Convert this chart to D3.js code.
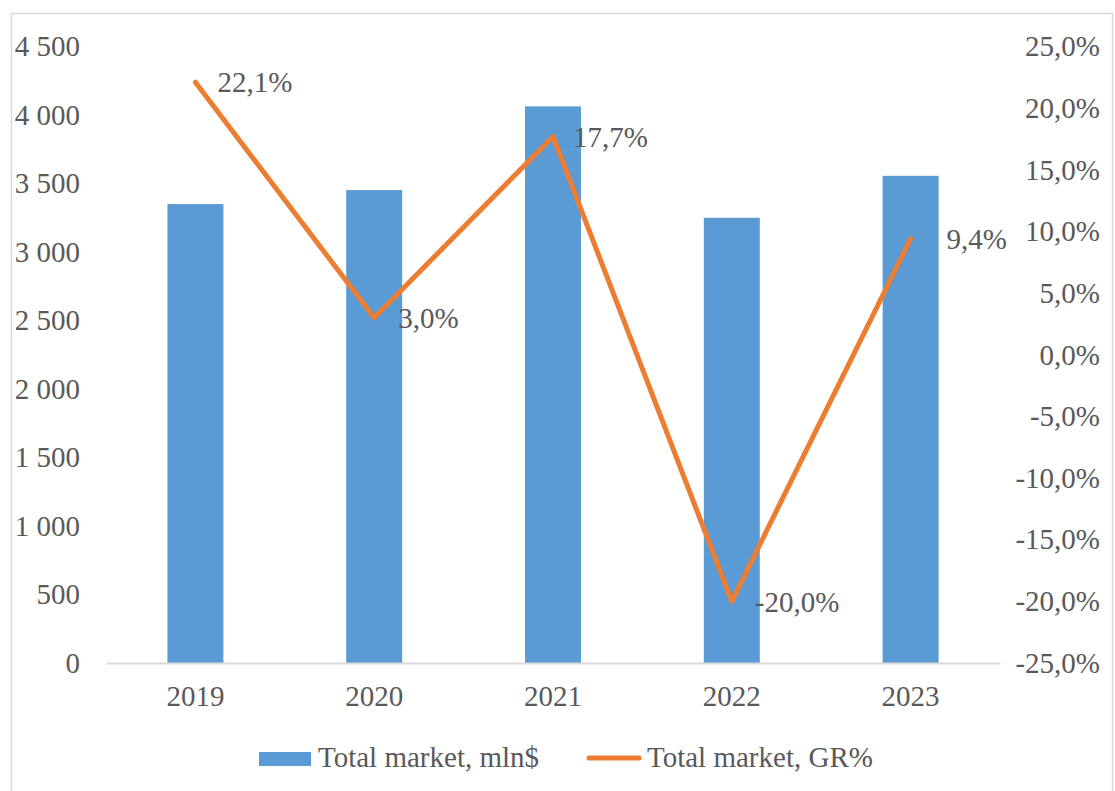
<!DOCTYPE html>
<html>
<head>
<meta charset="utf-8">
<script src="https://cdn.jsdelivr.net/npm/d3@7"></script>
<style>
  body { margin: 0; background: #fff; }
  text { font-family: 'Liberation Serif', 'Times New Roman', serif; fill: #595959; }
</style>
</head>
<body>
<svg id="chart" width="1115" height="791"></svg>
<script>
// chart data
const years = ['2019', '2020', '2021', '2022', '2023']
const marketMln = [3350, 3452, 4063, 3250, 3556]
const growthPct = [22.1, 3.0, 17.7, -20.0, 9.4]
const leftTicks = [0, 500, 1000, 1500, 2000, 2500, 3000, 3500, 4000, 4500]
const rightTicks = [-25, -20, -15, -10, -5, 0, 5, 10, 15, 20, 25]

const svg = d3.select('#chart')
const blue = '#5b9bd5'
const orange = '#ed7d31'
const fontSize = '29px'

// outer frame
svg.append('rect')
  .attr('x', 11.5).attr('y', 13.5)
  .attr('width', 1101).attr('height', 800)
  .attr('fill', '#fff')
  .attr('stroke', '#d9d9d9')
  .attr('stroke-width', 1.5)

const plot = { left: 106, right: 1000, top: 46.5, bottom: 663 }

const x = d3.scaleBand()
  .domain(years)
  .range([plot.left, plot.right])
  .paddingInner(0.687)
  .paddingOuter(0.3435)

const y = d3.scaleLinear().domain([0, 4500]).range([plot.bottom, plot.top])
const y2 = d3.scaleLinear().domain([-25, 25]).range([plot.bottom, plot.top])

const fmt = v => d3.format(',.0f')(v).replace(/,/g, ' ')
const pct = v => v.toFixed(1).replace('.', ',') + '%'

// left axis
const leftAxis = svg.append('g')
  .attr('transform', 'translate(80,0)')
  .call(d3.axisLeft(y).tickValues(leftTicks).tickFormat(fmt).tickSize(0).tickPadding(0))
leftAxis.select('.domain').remove()
leftAxis.selectAll('text')
  .style('font-size', fontSize)
  .style('font-family', "'Liberation Serif', serif")
  .attr('fill', '#595959')
  .attr('dy', '0.32em')

// right axis
const rightAxis = svg.append('g')
  .attr('transform', 'translate(1100,0)')
  .call(d3.axisLeft(y2).tickValues(rightTicks).tickFormat(pct).tickSize(0).tickPadding(0))
rightAxis.select('.domain').remove()
rightAxis.selectAll('text')
  .style('font-size', fontSize)
  .style('font-family', "'Liberation Serif', serif")
  .attr('fill', '#595959')
  .attr('dy', '0.32em')

// bars
svg.append('g')
  .selectAll('rect')
  .data(marketMln)
  .enter().append('rect')
  .attr('x', (d, i) => x(years[i]))
  .attr('y', d => y(d))
  .attr('width', x.bandwidth())
  .attr('height', d => y(0) - y(d))
  .attr('fill', blue)

// x axis
const bottomAxis = svg.append('g')
  .attr('transform', 'translate(0,' + plot.bottom + ')')
  .call(d3.axisBottom(x).tickSize(0).tickPadding(22))
bottomAxis.select('.domain')
  .attr('stroke', '#d9d9d9')
  .attr('stroke-width', 2)
bottomAxis.selectAll('text')
  .style('font-size', fontSize)
  .style('font-family', "'Liberation Serif', serif")
  .attr('fill', '#595959')

// growth line
const line = d3.line()
  .x((d, i) => x(years[i]) + x.bandwidth() / 2)
  .y(d => y2(d))

svg.append('path')
  .datum(growthPct)
  .attr('d', line)
  .attr('fill', 'none')
  .attr('stroke', orange)
  .attr('stroke-width', 5)
  .attr('stroke-linecap', 'round')
  .attr('stroke-linejoin', 'round')

// data labels
const labelDx = [22, 24, 20, 23, 36]
svg.append('g')
  .selectAll('text')
  .data(growthPct)
  .enter().append('text')
  .attr('x', (d, i) => x(years[i]) + x.bandwidth() / 2 + labelDx[i])
  .attr('y', d => y2(d))
  .attr('dy', '0.35em')
  .style('font-size', fontSize)
  .attr('fill', '#404040')
  .text(pct)

// legend
const legend = svg.append('g')
legend.append('rect')
  .attr('x', 259).attr('y', 752)
  .attr('width', 52).attr('height', 14)
  .attr('fill', blue)
legend.append('text')
  .attr('x', 318).attr('y', 757).attr('dy', '0.35em')
  .style('font-size', fontSize)
  .text('Total market, mln$')
legend.append('line')
  .attr('x1', 589).attr('x2', 639)
  .attr('y1', 758).attr('y2', 758)
  .attr('stroke', orange)
  .attr('stroke-width', 5)
  .attr('stroke-linecap', 'round')
legend.append('text')
  .attr('x', 647).attr('y', 757).attr('dy', '0.35em')
  .style('font-size', fontSize)
  .text('Total market, GR%')
</script>
</body>
</html>
